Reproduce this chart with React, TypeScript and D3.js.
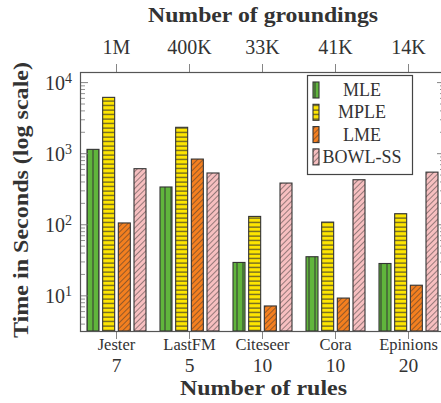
import React from "react";
import * as d3 from "d3";

const datasets = ["Jester", "LastFM", "Citeseer", "Cora", "Epinions"];
const rules = ["7", "5", "10", "10", "20"];
const groundings = ["1M", "400K", "33K", "41K", "14K"];
const methods = ["MLE", "MPLE", "LME", "BOWL-SS"];

const mle = [1150, 340, 29.5, 35.5, 28.5];
const mple = [6200, 2350, 131, 109, 143];
const lme = [106, 840, 7.2, 9.3, 14.1];
const bowl = [615, 535, 386, 430, 550];
const series = [mle, mple, lme, bowl];

const yMajor = [1, 2, 3, 4];

const W = 441;
const H = 403;
const left = 80;
const right = 445;
const top = 72;
const bottom = 331;
const ink = "#333";
const axisCol = "#777";
const font = "'Liberation Serif', 'DejaVu Serif', serif";

const fills = ["url(#pMLE)", "url(#pMPLE)", "url(#pLME)", "url(#pBOWL)"];

export default function App() {
  const x = d3.scaleBand().domain(datasets).range([left, right]).padding(0);
  const xi = d3
    .scaleBand()
    .domain(methods)
    .range([-29.5, 29.5])
    .paddingInner(0.234)
    .paddingOuter(0);
  const y = d3.scaleLog().domain([3.2, 14100]).range([bottom, top]);

  const minor: number[] = [];
  for (let e = 0; e <= 4; e++) {
    for (let m = 2; m <= 9; m++) {
      const v = m * Math.pow(10, e);
      if (v > 3.2 && v < 14100) minor.push(v);
    }
  }

  return (
    <svg
      width={W}
      height={H}
      style={{ position: "absolute", left: 0, top: 0, background: "#fff" }}
      fontFamily={font}
    >
      <defs>
        <pattern id="pMLE" patternUnits="userSpaceOnUse" width="6" height="6">
          <rect width="6" height="6" fill="#60b53c" />
          <line x1="3" y1="0" x2="3" y2="6" stroke={ink} strokeWidth="1" />
        </pattern>
        <pattern id="pMPLE" patternUnits="userSpaceOnUse" width="6" height="4.5">
          <rect width="6" height="4.5" fill="#ffe600" />
          <line x1="0" y1="2" x2="6" y2="2" stroke={ink} strokeWidth="1" />
        </pattern>
        <pattern
          id="pLME"
          patternUnits="userSpaceOnUse"
          width="4"
          height="4"
          patternTransform="rotate(45)"
        >
          <rect width="4" height="4" fill="#f47f1f" />
          <line x1="0" y1="0" x2="0" y2="4" stroke={ink} strokeWidth="1" />
        </pattern>
        <pattern
          id="pBOWL"
          patternUnits="userSpaceOnUse"
          width="4"
          height="4"
          patternTransform="rotate(45)"
        >
          <rect width="4" height="4" fill="#f7bfc0" />
          <line x1="0" y1="0" x2="0" y2="4" stroke={ink} strokeWidth="1" />
        </pattern>
      </defs>

      {/* bars */}
      {datasets.map((d, i) => {
        const cx = (x(d) as number) + x.bandwidth() / 2;
        return series.map((s, j) => (
          <rect
            key={d + j}
            x={cx + (xi(methods[j]) as number)}
            y={y(s[i])}
            width={xi.bandwidth()}
            height={bottom - y(s[i])}
            fill={fills[j]}
            stroke={ink}
            strokeWidth={1.1}
          />
        ));
      })}

      {/* y ticks */}
      {minor.map((v) => (
        <g key={"m" + v}>
          <line x1={left + 0.5} x2={left + 5} y1={y(v)} y2={y(v)} stroke={axisCol} strokeWidth={0.8} />
          <line x1={right - 5} x2={right - 0.5} y1={y(v)} y2={y(v)} stroke={axisCol} strokeWidth={0.8} />
        </g>
      ))}
      {yMajor.map((e) => {
        const v = Math.pow(10, e);
        return (
          <g key={"M" + e}>
            <line x1={left + 0.5} x2={left + 8} y1={y(v)} y2={y(v)} stroke={axisCol} strokeWidth={0.9} />
            <line x1={right - 8} x2={right - 0.5} y1={y(v)} y2={y(v)} stroke={axisCol} strokeWidth={0.9} />
            <text x={left - 8} y={y(v) + 7.5} textAnchor="end" fontSize={20} fill={ink}>
              10
              <tspan dy={-7} fontSize={14}>
                {e}
              </tspan>
            </text>
          </g>
        );
      })}

      {/* x ticks */}
      {datasets.map((d, i) => {
        const cx = (x(d) as number) + x.bandwidth() / 2;
        return (
          <g key={"x" + d}>
            <line x1={cx} x2={cx} y1={bottom} y2={bottom + 8} stroke={axisCol} strokeWidth={0.9} />
            <line x1={cx} x2={cx} y1={top - 8} y2={top} stroke={axisCol} strokeWidth={0.9} />
            <text x={cx} y={350} textAnchor="middle" fontSize={16.5} fill={ink}>
              {d}
            </text>
            <text x={cx} y={372} textAnchor="middle" fontSize={19.5} fill={ink}>
              {rules[i]}
            </text>
            <text x={cx} y={54} textAnchor="middle" fontSize={20} fill={ink}>
              {groundings[i]}
            </text>
          </g>
        );
      })}

      {/* frame */}
      <rect
        x={left + 0.5}
        y={top + 0.5}
        width={right - left - 1}
        height={bottom - top}
        fill="none"
        stroke="#555"
        strokeWidth={1.2}
      />

      {/* legend */}
      <g>
        <rect x={307.5} y={75.5} width={105} height={99} fill="#fff" stroke="#444" strokeWidth={1.2} />
        {methods.map((m, j) => {
          const cy = 90 + j * 22.3;
          return (
            <g key={"l" + m}>
              <rect x={313} y={cy - 8} width={6} height={16} fill={fills[j]} stroke={ink} strokeWidth={1.1} />
              <text x={362} y={cy + 6} textAnchor="middle" fontSize={18} fill={ink}>
                {m}
              </text>
            </g>
          );
        })}
      </g>

      {/* axis titles */}
      <text
        x={148}
        y={22}
        fontSize={20}
        fontWeight="bold"
        fill={ink}
        textLength={230}
        lengthAdjust="spacingAndGlyphs"
      >
        Number of groundings
      </text>
      <text
        x={180}
        y={395}
        fontSize={20}
        fontWeight="bold"
        fill={ink}
        textLength={167}
        lengthAdjust="spacingAndGlyphs"
      >
        Number of rules
      </text>
      <text
        transform="translate(28,338) rotate(-90)"
        fontSize={20}
        fontWeight="bold"
        fill={ink}
        textLength={276}
        lengthAdjust="spacingAndGlyphs"
      >
        Time in Seconds (log scale)
      </text>
    </svg>
  );
}
